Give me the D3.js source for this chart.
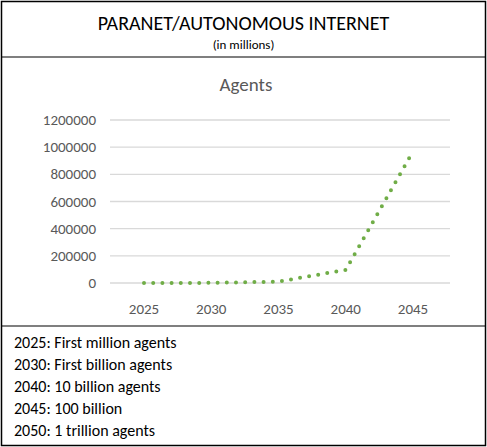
<!DOCTYPE html><html><head><script src="https://cdn.jsdelivr.net/npm/d3@7"></script>
<style>body{margin:0;background:#fff}text{font-family:Carlito,Calibri,"Liberation Sans",sans-serif}</style></head><body><script>
const years=["2025","2030","2035","2040","2045"];
const agents=[1,1000,10000,97000,970000];
const yTicks=[0,200000,400000,600000,800000,1000000,1200000];
const notes=["2025: First million agents","2030: First billion agents","2040: 10 billion agents","2045: 100 billion","2050: 1 trillion agents"];
const W=487,H=447;
const svg=d3.select("body").append("svg").attr("width",W).attr("height",H);
svg.append("rect").attr("x",1.5).attr("y",1.5).attr("width",W-3).attr("height",H-3).attr("fill","none").attr("stroke","#000").attr("stroke-width",1.5);
[57,326].forEach(y=>svg.append("line").attr("x1",1).attr("x2",W-1).attr("y1",y).attr("y2",y).attr("stroke","#000").attr("stroke-width",1.2));
svg.append("text").attr("x",W/2).attr("y",30).attr("text-anchor","middle").attr("font-size",20).text("PARANET/AUTONOMOUS INTERNET");
svg.append("text").attr("x",W/2).attr("y",49).attr("text-anchor","middle").attr("font-size",13).text("(in millions)");
svg.append("text").attr("x",246).attr("y",91).attr("text-anchor","middle").attr("font-size",19).attr("fill","#595959").text("Agents");
const x=d3.scalePoint().domain(years).range([144,413]);
const y=d3.scaleLinear().domain([0,1200000]).range([283,120]);
const g=svg.append("g");
yTicks.forEach(t=>{g.append("line").attr("x1",110).attr("x2",450).attr("y1",y(t)).attr("y2",y(t)).attr("stroke","#d9d9d9").attr("stroke-width",1.3);
g.append("text").attr("x",96).attr("y",y(t)+5).attr("text-anchor","end").attr("font-size",15).attr("fill","#595959").text(t);});
years.forEach(v=>g.append("text").attr("x",x(v)).attr("y",314).attr("text-anchor","middle").attr("font-size",15).attr("fill","#595959").text(v));
const line=d3.line().x((d,i)=>x(years[i])).y(d=>y(d));
g.append("path").attr("d",line(agents)).attr("fill","none").attr("stroke","#70ad47").attr("stroke-width",4).attr("stroke-linecap","round").attr("stroke-dasharray","0 9.2");
notes.forEach((n,i)=>svg.append("text").attr("x",14).attr("y",348+i*22).attr("font-size",16).text(n));
</script></body></html>
